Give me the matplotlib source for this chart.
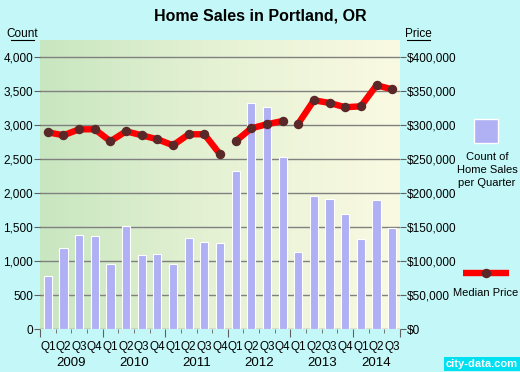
import numpy as np
import matplotlib
matplotlib.use("Agg")
import matplotlib.pyplot as plt
from matplotlib.colors import LinearSegmentedColormap

# ── Donnees ─────────────────────────────────────────────────────────────────
years    = ["2009", "2010", "2011", "2012", "2013", "2014"]
quarters = ["Q1", "Q2", "Q3", "Q4"] * 5 + ["Q1", "Q2", "Q3"]
sales    = [779, 1191, 1382, 1368, 956, 1515, 1098, 1103, 966, 1338, 1279, 1265,
            2324, 3332, 3273, 2529, 1132, 1965, 1921, 1700, 1323, 1906, 1494]
price    = [289700, 285300, 294100, 294100, 276500, 291200, 285300, 279400,
            270600, 286800, 286800, 257400, 276500, 295600, 301500, 306300,
            302400, 336800, 332800, 326500, 327900, 358800, 352900]
# segments de la courbe (coupures entre 2011 Q4 / 2012 Q1 et 2012 Q4 / 2013 Q1)
segments = [(0, 12), (12, 16), (16, 23)]

BG     = "#c4f8f8"
BAR    = "#b0b0f4"
FONT   = "Liberation Sans"
plt.rcParams["font.family"] = [FONT, "DejaVu Sans"]

fig = plt.figure(figsize=(5.2, 3.72), dpi=100, facecolor=BG)
ax = fig.add_axes([40 / 520, 1 - 329.3 / 372, 360 / 520, 289.3 / 372])
YMAX = 4254

# fond en degrade vert -> jaune pale
cmap = LinearSegmentedColormap.from_list("bg", ["#c8e6c0", "#e6f2d4", "#fafae2"])
grad = np.linspace(0, 1, 256).reshape(1, -1)
ax.imshow(grad, cmap=cmap, aspect="auto", extent=(-0.5, 22.5, 0, YMAX), zorder=0)

x = np.arange(len(sales))
ax.bar(x, sales, width=0.52, color=BAR, edgecolor="white", linewidth=0.8, zorder=2)
ax.set_xlim(-0.5, 22.5)
ax.set_ylim(0, YMAX)
ax.set_yticks(np.arange(0, 4001, 500))
ax.set_yticklabels([f"{v:,}" for v in range(0, 4001, 500)], fontsize=8.5)
for v in range(0, 4001, 500):
    ax.axhline(v, color="#808080", linewidth=1, zorder=1)

# axe des prix
ax2 = ax.twinx()
ax2.set_ylim(0, YMAX * 100)
ax2.set_yticks(np.arange(0, 400001, 50000))
ax2.set_yticklabels([f"${v:,}" for v in range(0, 400001, 50000)], fontsize=8.5)
for a, b in segments:
    ax2.plot(x[a:b], price[a:b], color="red", linewidth=4.6, solid_capstyle="butt", zorder=3)
    ax2.plot(x[a:b], price[a:b], "o", color="#5a2828", markersize=5.8, zorder=4)

for a in (ax, ax2):
    for s in a.spines.values():
        s.set_visible(False)
    a.tick_params(axis="y", length=4, color="#606060", pad=1)

# axe x : ticks entre les trimestres, labels Q et annees
ax.set_xticks(np.arange(-0.5, 23, 1), minor=True)
ax.set_xticks(np.array([-0.5, 3.5, 7.5, 11.5, 15.5, 19.5, 22.5]))
ax.set_xticklabels([])
ax.tick_params(axis="x", which="major", length=6, color="#606060")
ax.tick_params(axis="x", which="minor", length=3, color="#606060")
for i, q in enumerate(quarters):
    ax.text(i, -170, q, ha="center", va="top", fontsize=8.5, zorder=5)
year_pos = [1.5, 5.5, 9.5, 13.5, 17.5, 21]
for yp, yr in zip(year_pos, years):
    ax.text(yp, -410, yr, ha="center", va="top", fontsize=9.5)

fig.text(0.5, 1 - 16 / 372, "Home Sales in Portland, OR", ha="center", va="center",
         fontsize=11.5, fontweight="bold")
fig.text(22 / 520, 1 - 34 / 372, "Count", ha="center", va="center", fontsize=8.5)
fig.add_artist(plt.Line2D([11 / 520, 34 / 520], [1 - 40 / 372] * 2, color="black", lw=0.8))
fig.text(418 / 520, 1 - 34 / 372, "Price", ha="center", va="center", fontsize=8.5)
fig.add_artist(plt.Line2D([407 / 520, 430 / 520], [1 - 40 / 372] * 2, color="black", lw=0.8))

# legende
fig.patches.append(plt.Rectangle((474 / 520, 1 - 143 / 372), 24 / 520, 24 / 372,
                                 transform=fig.transFigure, facecolor=BAR,
                                 edgecolor="white", linewidth=1))
fig.text(487 / 520, 1 - 170 / 372, "Count of\nHome Sales\nper Quarter", ha="center",
         va="center", fontsize=8, linespacing=1.4)
fig.add_artist(plt.Line2D([463 / 520, 509 / 520], [1 - 273 / 372] * 2, color="red", lw=4.6,
                          solid_capstyle="butt"))
fig.add_artist(plt.Line2D([486 / 520], [1 - 273 / 372], marker="o", color="#5a2828",
                          markersize=5.8))
fig.text(486 / 520, 1 - 293 / 372, "Median Price", ha="center", va="center", fontsize=8)

# logo city-data
fig.text(518 / 520, 1 - 364 / 372, "city-data.com", ha="right", va="center", fontsize=8,
         color="white", fontweight="bold",
         bbox=dict(boxstyle="square,pad=0.15", facecolor="#00e0f0", edgecolor="none"))

fig.savefig("out.png", dpi=100, facecolor=BG)
